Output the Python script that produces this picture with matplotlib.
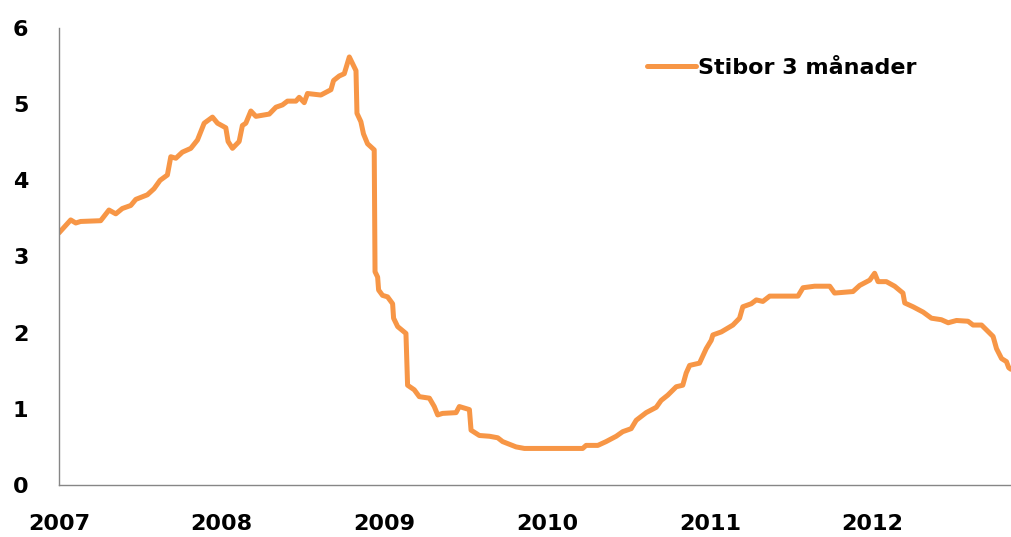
import matplotlib
matplotlib.use("Agg")
import matplotlib.pyplot as plt

# Decimal years and Stibor 3-month rate (%)
t = [2007.000, 2007.072, 2007.103, 2007.133, 2007.256, 2007.307, 2007.349, 2007.389,
     2007.441, 2007.472, 2007.543, 2007.584, 2007.621, 2007.666, 2007.687, 2007.718,
     2007.758, 2007.810, 2007.851, 2007.892, 2007.943, 2007.974, 2008.025, 2008.039,
     2008.066, 2008.107, 2008.127, 2008.148, 2008.179, 2008.210, 2008.292, 2008.333,
     2008.373, 2008.404, 2008.456, 2008.476, 2008.507, 2008.527, 2008.609, 2008.671,
     2008.687, 2008.722, 2008.753, 2008.784, 2008.825, 2008.831, 2008.855, 2008.871,
     2008.896, 2008.937, 2008.942, 2008.958, 2008.964, 2008.988, 2009.019, 2009.050,
     2009.056, 2009.081, 2009.132, 2009.142, 2009.183, 2009.214, 2009.276, 2009.306,
     2009.327, 2009.357, 2009.440, 2009.460, 2009.522, 2009.532, 2009.583, 2009.645,
     2009.696, 2009.726, 2009.809, 2009.860, 2010.218, 2010.239, 2010.311, 2010.362,
     2010.424, 2010.464, 2010.516, 2010.547, 2010.608, 2010.670, 2010.700, 2010.741,
     2010.793, 2010.833, 2010.854, 2010.875, 2010.936, 2010.977, 2011.008, 2011.018,
     2011.070, 2011.141, 2011.182, 2011.202, 2011.254, 2011.285, 2011.325, 2011.367,
     2011.541, 2011.572, 2011.643, 2011.736, 2011.766, 2011.879, 2011.920, 2011.982,
     2012.012, 2012.033, 2012.084, 2012.135, 2012.186, 2012.197, 2012.248, 2012.310,
     2012.361, 2012.422, 2012.464, 2012.515, 2012.586, 2012.617, 2012.669, 2012.740,
     2012.761, 2012.792, 2012.822, 2012.836, 2012.849]
rate = [3.31, 3.48, 3.44, 3.46, 3.47, 3.61, 3.56, 3.63,
        3.67, 3.75, 3.81, 3.89, 4.00, 4.07, 4.31, 4.29,
        4.37, 4.42, 4.53, 4.75, 4.83, 4.75, 4.69, 4.51,
        4.42, 4.51, 4.72, 4.75, 4.91, 4.84, 4.87, 4.96,
        4.99, 5.04, 5.04, 5.09, 5.02, 5.14, 5.12, 5.19,
        5.31, 5.37, 5.40, 5.62, 5.44, 4.88, 4.77, 4.61,
        4.48, 4.40, 2.80, 2.73, 2.56, 2.49, 2.47, 2.38,
        2.19, 2.08, 1.99, 1.31, 1.25, 1.16, 1.14, 1.03,
        0.92, 0.94, 0.95, 1.03, 0.99, 0.72, 0.65, 0.64,
        0.62, 0.57, 0.50, 0.48, 0.48, 0.52, 0.52, 0.57,
        0.64, 0.70, 0.74, 0.85, 0.95, 1.02, 1.11, 1.18,
        1.29, 1.31, 1.47, 1.57, 1.60, 1.79, 1.90, 1.97,
        2.01, 2.10, 2.19, 2.34, 2.38, 2.43, 2.41, 2.48,
        2.48, 2.59, 2.61, 2.61, 2.52, 2.54, 2.62, 2.69,
        2.78, 2.67, 2.67, 2.61, 2.52, 2.39, 2.34, 2.27,
        2.19, 2.17, 2.13, 2.16, 2.15, 2.10, 2.10, 1.95,
        1.79, 1.66, 1.62, 1.54, 1.52]

years = [2007, 2008, 2009, 2010, 2011, 2012]
year_labels = ["2007", "2008", "2009", "2010", "2011", "2012"]
yticks = [0, 1, 2, 3, 4, 5, 6]
series_name = "Stibor 3 månader"

W, H = 1011, 537
fig = plt.figure(figsize=(W / 100, H / 100), dpi=100)
ax = fig.add_axes([59 / W, 1 - 485 / H, 1 - 59 / W, (485 - 28) / H])

ax.plot(t, rate, color="#F79646", linewidth=3.6, solid_joinstyle="round",
        solid_capstyle="round", label=series_name)

ax.set_xlim(2007, 2012.85)
ax.set_ylim(0, 6)
ax.set_xticks(years)
ax.set_xticklabels(year_labels)
ax.set_yticks(yticks)

font = dict(family="DejaVu Sans", weight="bold", size=16)
for lab in ax.get_xticklabels() + ax.get_yticklabels():
    lab.set_fontproperties(matplotlib.font_manager.FontProperties(**font))
ax.tick_params(axis="both", length=0)
ax.tick_params(axis="y", pad=22)
ax.tick_params(axis="x", pad=21)

for s in ["top", "right"]:
    ax.spines[s].set_visible(False)
for s in ["left", "bottom"]:
    ax.spines[s].set_color("#868686")
    ax.spines[s].set_linewidth(1.0)

leg = ax.legend(loc="center left", bbox_to_anchor=(647 / W, 1 - 68 / H),
                bbox_transform=fig.transFigure, frameon=False,
                borderpad=0, borderaxespad=0, handletextpad=0.1,
                handlelength=2.2, prop=matplotlib.font_manager.FontProperties(**font))

fig.savefig("out.png", dpi=100)
